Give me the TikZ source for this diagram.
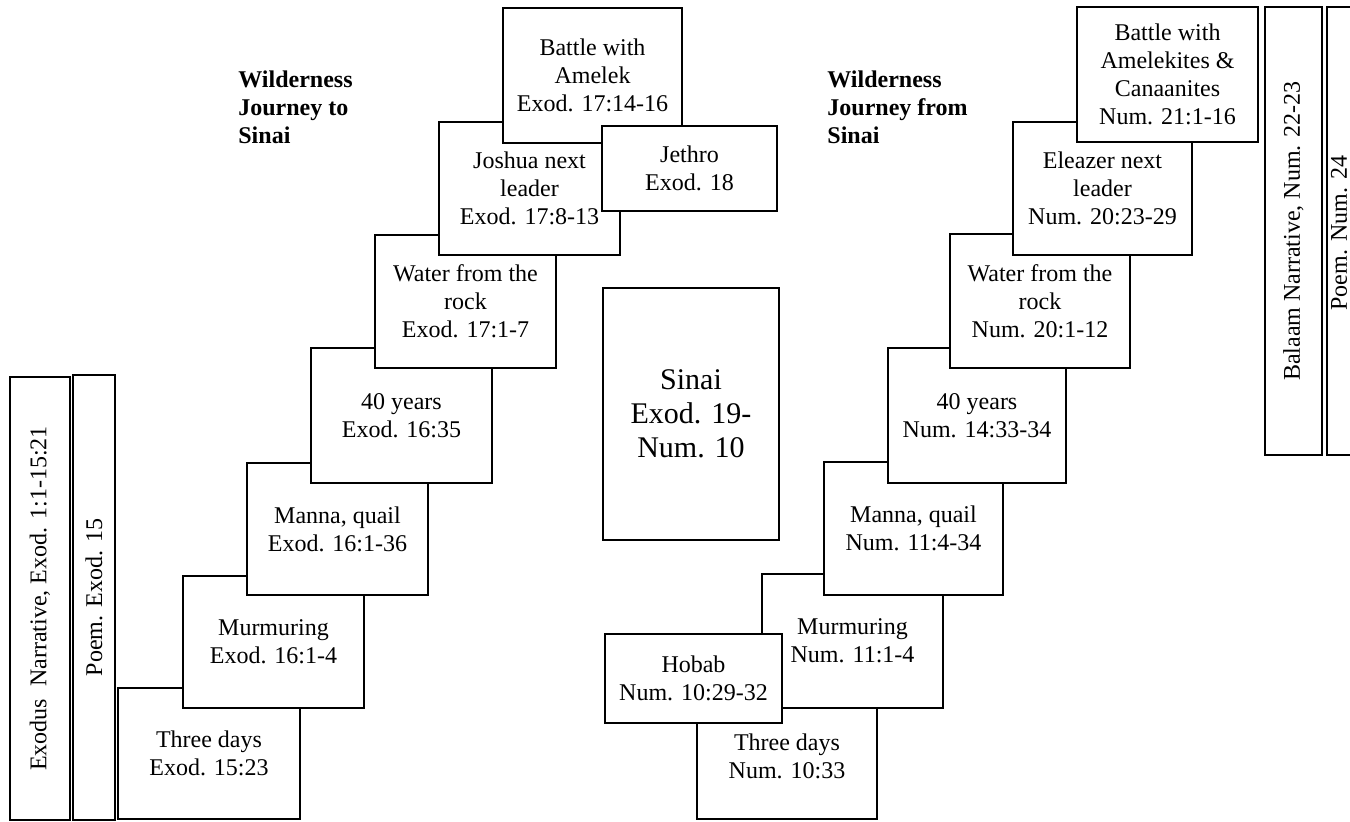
\documentclass[tikz,border=0pt]{standalone}
\usepackage{fontspec}
\setmainfont{Liberation Serif}
\begin{document}
\begin{tikzpicture}[x=0.5pt,y=-0.5pt,
  bx/.style={draw, line width=0.9pt, fill=white, inner sep=0pt, outer sep=0pt, align=center, font=\fontsize{12}{14}\selectfont},
  sz/.style 2 args={minimum width=#1*0.5pt, minimum height=#2*0.5pt},
  txt/.style={inner sep=0pt, align=center, font=\fontsize{12}{14}\selectfont},
  head/.style={anchor=west, align=left, inner sep=0pt, font=\fontsize{12}{14}\selectfont\bfseries}]
\useasboundingbox (0,0) rectangle (1350,821);
\clip (0,0) rectangle (1350,821);
% ---- left: journey to Sinai
\node[bx, rotate=90, sz={443}{60}] (exn) at (40,598.5) {Exodus\ \ Narrative, Exod. 1:1-15:21};
\node[bx, rotate=90, sz={445}{42}] (pex) at (94,597.5) {Poem. Exod. 15};
\node[bx, sz={182}{131}] (td1) at (209,753.5) {Three days\\Exod. 15:23};
\node[bx, sz={181}{132}] (mu1) at (273.5,642) {Murmuring\\Exod. 16:1-4};
\node[bx, sz={181}{132}] (ma1) at (337.5,529) {Manna, quail\\Exod. 16:1-36};
\node[bx, sz={181}{135}] (fy1) at (401.5,415.5) {40 years\\Exod. 16:35};
\node[bx, sz={181}{133}] (wa1) at (465.5,301.5) {Water from the\\rock\\Exod. 17:1-7};
\node[bx, sz={181}{133}] (jo1) at (529.5,188.5) {Joshua next\\leader\\Exod. 17:8-13};
\node[bx, sz={179}{135}] (ba1) at (592.5,75.5) {Battle with\\Amelek\\Exod. 17:14-16};
\node[bx, sz={175}{85}] (je1) at (689.5,168.5) {Jethro\\Exod. 18};
\node[head] (h1) at (238,107) {Wilderness\\Journey to\\Sinai};
% ---- Sinai
\node[bx, sz={176}{252}, font=\fontsize{15}{17}\selectfont] (sinai) at (691,414) {Sinai\\Exod. 19-\\Num. 10};
% ---- right: journey from Sinai
\node[head] (h2) at (827,107) {Wilderness\\Journey from\\Sinai};
\node[bx, sz={180}{111}] (td2) at (787,763.5) {};
\node[txt] (td2t) at (787,756) {Three days\\Num. 10:33};
\node[bx, sz={181}{134}] (mu2) at (852.5,641) {Murmuring\\Num. 11:1-4};
\node[bx, sz={179}{133}] (ma2) at (913.5,528.5) {Manna, quail\\Num. 11:4-34};
\node[bx, sz={178}{135}] (fy2) at (977,415.5) {40 years\\Num. 14:33-34};
\node[bx, sz={180}{134}] (wa2) at (1040,301) {Water from the\\rock\\Num. 20:1-12};
\node[bx, sz={179}{133}] (el2) at (1102.5,188.5) {Eleazer next\\leader\\Num. 20:23-29};
\node[bx, sz={181}{135}] (ba2) at (1167.5,74.5) {Battle with\\Amelekites \&\\Canaanites\\Num. 21:1-16};
\node[bx, rotate=90, sz={448}{57}] (bal) at (1293.5,231) {Balaam Narrative, Num. 22-23};
\node[bx, rotate=90, sz={448}{53}] (pnu) at (1353.5,231) {};
\node[txt, rotate=90] (pnut) at (1339,233) {Poem. Num. 24};
\node[bx, sz={177}{89}] (hob) at (693.5,678.5) {Hobab\\Num. 10:29-32};
\end{tikzpicture}
\end{document}
